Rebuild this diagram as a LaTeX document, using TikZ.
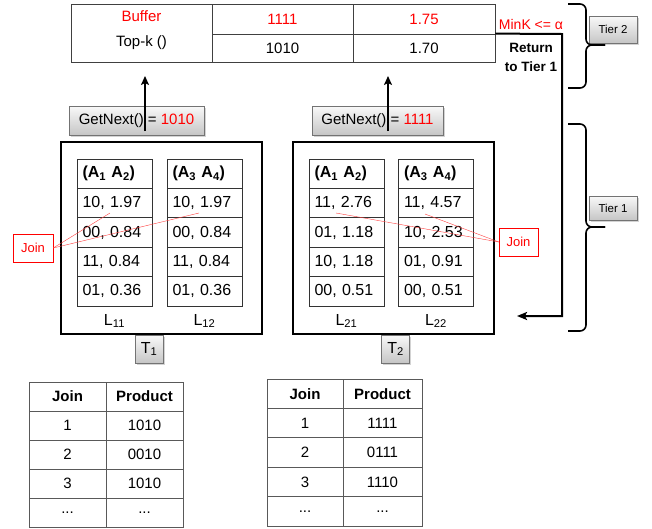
\documentclass[tikz,border=0pt]{standalone}
\usepackage{fontspec}
\setmainfont{Liberation Sans}
\usetikzlibrary{arrows.meta, shadows}

\tikzset{
  tcell/.style={draw=black!75, line width=0.8pt, inner sep=0pt, font=\fontsize{15}{18}\selectfont},
  cell/.style={draw=black!80, line width=0.7pt, minimum width=75pt, minimum height=29.4pt, text width=64pt, inner xsep=5.5pt, inner ysep=0pt, align=left, font=\fontsize{16}{18}\selectfont},
  bcell/.style={draw=black!65, line width=1pt, inner sep=0pt, font=\fontsize{15}{18}\selectfont},
  graybox/.style={draw=black!55, top color=gray!5, bottom color=gray!45, inner sep=0pt, drop shadow={shadow xshift=1.5pt, shadow yshift=-1.5pt, opacity=0.35}},
  joinbox/.style={draw=red, text=red, thin, inner sep=0pt, font=\fontsize{13}{15}\selectfont},
  tbox/.style={draw, line width=2.2pt, inner sep=0pt}
}

\begin{document}
\begin{tikzpicture}[x=1pt, y=-1pt]
\useasboundingbox (0,0) rectangle (652,528);

%Buffer:
\node (buf) [tcell, minimum width=141pt, minimum height=58pt] at (141.5,33) {};
\node (buftxt) [align=center, font=\fontsize{15}{25}\selectfont] at (141.5,30) {\textcolor{red}{Buffer}\\Top-k ()};
\node (c11) [tcell, minimum width=141pt, minimum height=30pt, text=red] at (282.5,19) {1111};
\node (c12) [tcell, minimum width=142pt, minimum height=30pt, text=red] at (424,19) {1.75};
\node (c21) [tcell, minimum width=141pt, minimum height=28pt] at (282.5,48) {1010};
\node (c22) [tcell, minimum width=142pt, minimum height=28pt] at (424,48) {1.70};
\node (mink) [text=red, font=\fontsize{14}{16}\selectfont] at (531,24) {MinK <= α};
\node (back) [align=center, font=\bfseries\fontsize{13.5}{19}\selectfont] at (531,57) {Return\\to Tier 1};

%Tiers:
\node (tier2) [graybox, minimum width=48pt, minimum height=27pt, font=\fontsize{11.5}{13}\selectfont] at (613,29.5) {Tier 2};
\node (tier1) [graybox, minimum width=48pt, minimum height=24pt, font=\fontsize{11.5}{13}\selectfont] at (613,208) {Tier 1};
\draw [line width=1.6pt, rounded corners=6pt] (568,4) -- (586,4) -- (586,45) -- (605,45);
\draw [line width=1.6pt, rounded corners=6pt] (568,88) -- (586,88) -- (586,45) -- (605,45);
\draw [line width=1.6pt, rounded corners=6pt] (568,124) -- (586,124) -- (586,227) -- (605,227);
\draw [line width=1.6pt, rounded corners=6pt] (568,331) -- (586,331) -- (586,227) -- (605,227);

%GetNext:
\node (gn1) [graybox, minimum width=135pt, minimum height=29pt, font=\fontsize{15}{18}\selectfont] at (136.5,120.5) {GetNext() = \textcolor{red}{1010}};
\node (gn2) [graybox, minimum width=131pt, minimum height=29pt, font=\fontsize{15}{18}\selectfont] at (377.5,120.5) {GetNext() = \textcolor{red}{1111}};
\coordinate (a1) at (145,131);
\coordinate (b1) at (145,76);
\coordinate (a2) at (388,131);
\coordinate (b2) at (388,76);
\draw [line width=2pt, -{Stealth[length=9pt, width=8pt, inset=2pt]}] (a1) -- (b1);
\draw [line width=2pt, -{Stealth[length=9pt, width=8pt, inset=2pt]}] (a2) -- (b2);

%Return to Tier 1:
\coordinate (turn) at (562,34);
\coordinate (ret) at (517,316);
\draw [line width=2pt, -{Stealth[length=10pt, width=8pt, inset=2pt]}] (c22.north east) -- (turn) |- (ret);

%T1:
\node (T1) [tbox, minimum width=201pt, minimum height=192pt] at (161.5,238) {};
\node (L11h) [cell] at (114.5,173.7) {\textbf{(A\textsubscript{1} A\textsubscript{2})}};
\node (L11a) [cell] at (114.5,203.1) {10, 1.97};
\node (L11b) [cell] at (114.5,232.5) {00, 0.84};
\node (L11c) [cell] at (114.5,261.9) {11, 0.84};
\node (L11d) [cell] at (114.5,291.3) {01, 0.36};
\node (L12h) [cell] at (204.5,173.7) {\textbf{(A\textsubscript{3} A\textsubscript{4})}};
\node (L12a) [cell] at (204.5,203.1) {10, 1.97};
\node (L12b) [cell] at (204.5,232.5) {00, 0.84};
\node (L12c) [cell] at (204.5,261.9) {11, 0.84};
\node (L12d) [cell] at (204.5,291.3) {01, 0.36};
\node (L11) [font=\fontsize{16}{18}\selectfont] at (114.5,321) {L\textsubscript{11}};
\node (L12) [font=\fontsize{16}{18}\selectfont] at (204.5,321) {L\textsubscript{12}};
\node (t1) [graybox, minimum width=28pt, minimum height=28pt, font=\fontsize{16}{18}\selectfont] at (149,349) {T\textsubscript{1}};

%T2:
\node (T2) [tbox, minimum width=201pt, minimum height=192pt] at (393.5,238) {};
\node (L21h) [cell] at (346.5,173.7) {\textbf{(A\textsubscript{1} A\textsubscript{2})}};
\node (L21a) [cell] at (346.5,203.1) {11, 2.76};
\node (L21b) [cell] at (346.5,232.5) {01, 1.18};
\node (L21c) [cell] at (346.5,261.9) {10, 1.18};
\node (L21d) [cell] at (346.5,291.3) {00, 0.51};
\node (L22h) [cell] at (436,173.7) {\textbf{(A\textsubscript{3} A\textsubscript{4})}};
\node (L22a) [cell] at (436,203.1) {11, 4.57};
\node (L22b) [cell] at (436,232.5) {10, 2.53};
\node (L22c) [cell] at (436,261.9) {01, 0.91};
\node (L22d) [cell] at (436,291.3) {00, 0.51};
\node (L21) [font=\fontsize{16}{18}\selectfont] at (346.5,321) {L\textsubscript{21}};
\node (L22) [font=\fontsize{16}{18}\selectfont] at (436,321) {L\textsubscript{22}};
\node (t2) [graybox, minimum width=28pt, minimum height=28pt, font=\fontsize{16}{18}\selectfont] at (395.5,349) {T\textsubscript{2}};

%Join:
\node (join1) [joinbox, minimum width=40pt, minimum height=28pt] at (33,248) {Join};
\node (join2) [joinbox, minimum width=39pt, minimum height=28pt] at (518.5,242) {Join};
\coordinate (j11) at (110,213);
\coordinate (j12) at (199,213);
\coordinate (j21) at (336,213);
\coordinate (j22) at (425,214);
\path [red!75, thin]
(join1.east) edge (j11)
(join1.east) edge (j12)
(join2.west) edge (j21)
(join2.west) edge (j22)
;

%Products of T1:
\node (J1h) [bcell, minimum width=77pt, minimum height=29pt, font=\bfseries\fontsize{15}{18}\selectfont] at (67.5,396.5) {Join};
\node (P1h) [bcell, minimum width=77pt, minimum height=29pt, font=\bfseries\fontsize{15}{18}\selectfont] at (144.5,396.5) {Product};
\node (J1a) [bcell, minimum width=77pt, minimum height=29pt] at (67.5,425.5) {1};
\node (P1a) [bcell, minimum width=77pt, minimum height=29pt] at (144.5,425.5) {1010};
\node (J1b) [bcell, minimum width=77pt, minimum height=29pt] at (67.5,454.5) {2};
\node (P1b) [bcell, minimum width=77pt, minimum height=29pt] at (144.5,454.5) {0010};
\node (J1c) [bcell, minimum width=77pt, minimum height=29pt] at (67.5,483.5) {3};
\node (P1c) [bcell, minimum width=77pt, minimum height=29pt] at (144.5,483.5) {1010};
\node (J1d) [bcell, minimum width=77pt, minimum height=29pt] at (67.5,512.5) {...};
\node (P1d) [bcell, minimum width=77pt, minimum height=29pt] at (144.5,512.5) {...};

%Products of T2:
\node (J2h) [bcell, minimum width=76pt, minimum height=29.4pt, font=\bfseries\fontsize{15}{18}\selectfont] at (305,393.7) {Join};
\node (P2h) [bcell, minimum width=79pt, minimum height=29.4pt, font=\bfseries\fontsize{15}{18}\selectfont] at (382.5,393.7) {Product};
\node (J2a) [bcell, minimum width=76pt, minimum height=29.4pt] at (305,423.1) {1};
\node (P2a) [bcell, minimum width=79pt, minimum height=29.4pt] at (382.5,423.1) {1111};
\node (J2b) [bcell, minimum width=76pt, minimum height=29.4pt] at (305,452.5) {2};
\node (P2b) [bcell, minimum width=79pt, minimum height=29.4pt] at (382.5,452.5) {0111};
\node (J2c) [bcell, minimum width=76pt, minimum height=29.4pt] at (305,481.9) {3};
\node (P2c) [bcell, minimum width=79pt, minimum height=29.4pt] at (382.5,481.9) {1110};
\node (J2d) [bcell, minimum width=76pt, minimum height=29.4pt] at (305,511.3) {...};
\node (P2d) [bcell, minimum width=79pt, minimum height=29.4pt] at (382.5,511.3) {...};

\end{tikzpicture}
\end{document}
